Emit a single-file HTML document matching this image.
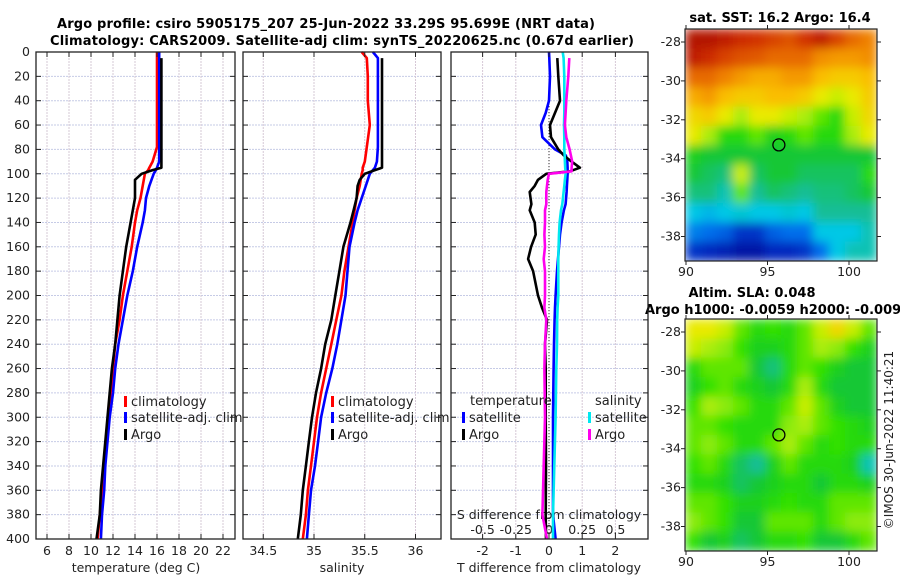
<!DOCTYPE html>
<html><head><meta charset="utf-8"><style>
html,body{margin:0;padding:0;background:#fff;}
svg{display:block;font-family:"DejaVu Sans","Liberation Sans",sans-serif;}
</style></head><body>
<svg id="fig" width="900" height="580" xmlns="http://www.w3.org/2000/svg">
<defs>
<filter id="blur" x="0" y="0" width="1" height="1"><feGaussianBlur stdDeviation="5" edgeMode="duplicate"/></filter>
<clipPath id="clip1"><rect x="685" y="29" width="192" height="232"/></clipPath>
<clipPath id="clip2"><rect x="685" y="319" width="192" height="232"/></clipPath>
</defs>
<text x="326" y="28" text-anchor="middle" font-size="13" font-weight="bold" textLength="538">Argo profile: csiro 5905175_207 25-Jun-2022 33.29S 95.699E (NRT data)</text>
<text x="342" y="45" text-anchor="middle" font-size="13" font-weight="bold" textLength="584">Climatology: CARS2009. Satellite-adj clim: synTS_20220625.nc (0.67d earlier)</text>
<text x="780" y="22" text-anchor="middle" font-size="13" font-weight="bold">sat. SST: 16.2 Argo: 16.4</text>
<text x="752" y="297" text-anchor="middle" font-size="13" font-weight="bold">Altim. SLA: 0.048</text>
<text x="645" y="314" font-size="13" font-weight="bold">Argo h1000: -0.0059 h2000: -0.009</text>
<text transform="translate(893,440) rotate(-90)" text-anchor="middle" font-size="12" fill="#222">©IMOS 30-Jun-2022 11:40:21</text>
<g id="g"></g>
</svg>
<script>
// ---- profile data ----
const tDepth = [0,5,20,40,60,78,90,95,97,100,105,110,120,130,140,160,180,200,220,240,260,280,300,320,340,360,380,400];
const tArgo  = [null,16.4,16.4,16.4,16.4,16.4,16.4,16.4,15.6,14.6,14.0,14.0,14.0,13.8,13.6,13.2,12.9,12.6,12.4,12.2,11.9,11.7,11.5,11.3,11.1,10.9,10.8,10.5];
const tClim  = [16.0,16.0,16.0,16.0,16.0,16.0,15.6,15.3,15.2,14.9,14.8,14.7,14.5,14.2,14.0,13.7,13.3,12.9,12.6,12.2,12.0,11.8,11.6,11.4,11.2,11.0,10.8,10.6];
const tSat   = [16.2,16.2,16.2,16.2,16.2,16.2,16.2,16.0,15.9,15.7,15.5,15.3,15.0,14.9,14.7,14.2,13.8,13.3,12.9,12.5,12.2,12.0,11.7,11.5,11.3,11.2,11.0,10.9];
const sArgo  = [null,35.67,35.67,35.67,35.67,35.67,35.67,35.67,35.6,35.5,35.45,35.43,35.42,35.39,35.36,35.29,35.25,35.21,35.17,35.11,35.07,35.02,34.98,34.95,34.92,34.89,34.87,34.84];
const sClim  = [35.47,35.52,35.53,35.53,35.55,35.52,35.5,35.48,35.48,35.47,35.46,35.45,35.42,35.4,35.38,35.34,35.3,35.27,35.22,35.17,35.12,35.07,35.03,35.0,34.97,34.94,34.92,34.89];
const sSat   = [35.58,35.63,35.63,35.63,35.63,35.63,35.62,35.6,35.58,35.55,35.53,35.51,35.47,35.43,35.4,35.35,35.33,35.31,35.27,35.23,35.18,35.12,35.07,35.04,35.01,34.97,34.95,34.93];
const dDepth = [0,5,20,40,50,60,70,80,85,90,95,98,100,105,110,115,125,130,140,150,160,170,180,200,210,220,240,260,300,340,380,400];
const dTSat  = [0.0,0.01,0.03,0.0,-0.1,-0.24,-0.2,0.18,0.51,0.55,0.56,0.56,0.56,0.55,0.54,0.53,0.5,0.45,0.38,0.33,0.3,0.27,0.24,0.2,0.18,0.17,0.15,0.14,0.12,0.12,0.12,0.2];
const dTArgo = [null,0.25,0.28,0.33,0.18,0.03,0.06,0.28,0.45,0.68,0.93,0.63,-0.08,-0.33,-0.43,-0.58,-0.53,-0.58,-0.43,-0.4,-0.54,-0.63,-0.48,-0.33,-0.21,-0.06,-0.12,-0.1,-0.1,-0.09,-0.1,-0.09];
const dSSat  = [0.103,0.11,0.115,0.115,0.115,0.113,0.115,0.115,0.118,0.12,0.122,0.124,0.125,0.12,0.115,0.11,0.1,0.09,0.08,0.075,0.072,0.07,0.07,0.07,0.065,0.062,0.06,0.055,0.05,0.04,0.03,0.03];
const dSArgo = [null,0.153,0.145,0.13,0.125,0.12,0.13,0.155,0.165,0.175,0.17,0.17,0.0,-0.01,-0.015,-0.02,-0.02,-0.03,-0.03,-0.035,-0.03,-0.04,-0.03,-0.03,-0.035,-0.02,-0.03,-0.035,-0.03,-0.04,-0.05,-0.015];
const depthTicks = [0,20,40,60,80,100,120,140,160,180,200,220,240,260,280,300,320,340,360,380,400];
const tTicks = [6,8,10,12,14,16,18,20,22];
const sTicks = [34.5,35,35.5,36];
const dTTicks = [-2,-1,0,1,2];
const dSTicks = [-0.5,-0.25,0,0.25,0.5];
const dSTickLabels = ["-0.5","-0.25","0","0.25","0.5"];
// ---- map data (colour index 0..1, rows north to south, cols west to east) ----
const sstGrid = [
[.97,.97,.95,.93,.92,.9,.88,.92,.95,.9,.85,.82],
[.95,.93,.9,.88,.87,.85,.85,.85,.8,.78,.78,.8],
[.85,.85,.82,.78,.75,.75,.78,.78,.72,.7,.7,.72],
[.75,.78,.72,.7,.7,.72,.72,.7,.65,.62,.65,.7],
[.68,.7,.65,.6,.65,.65,.62,.6,.55,.5,.62,.68],
[.65,.6,.5,.5,.55,.48,.5,.55,.5,.5,.6,.65],
[.48,.45,.45,.45,.45,.45,.45,.45,.45,.45,.45,.45],
[.45,.42,.4,.62,.42,.45,.45,.42,.42,.42,.42,.5],
[.4,.4,.35,.55,.38,.42,.4,.38,.4,.4,.42,.45],
[.3,.28,.3,.32,.3,.3,.32,.3,.38,.38,.38,.38],
[.22,.2,.18,.12,.12,.18,.2,.2,.3,.3,.3,.35],
[.12,.1,.08,.05,.05,.1,.1,.12,.2,.3,.35,.35]];
const slaGrid = [
[.65,.65,.62,.55,.5,.52,.5,.55,.62,.68,.62,.55],
[.62,.6,.58,.52,.48,.48,.5,.55,.6,.58,.52,.48],
[.5,.55,.55,.55,.45,.4,.5,.55,.52,.48,.45,.45],
[.48,.52,.55,.5,.48,.45,.5,.6,.5,.45,.45,.45],
[.52,.6,.58,.55,.5,.5,.55,.62,.55,.48,.45,.45],
[.55,.55,.52,.5,.5,.5,.58,.6,.55,.52,.5,.48],
[.55,.58,.55,.5,.5,.55,.6,.55,.5,.52,.5,.5],
[.52,.55,.5,.42,.38,.48,.55,.5,.5,.5,.48,.35],
[.5,.5,.48,.42,.45,.48,.5,.5,.45,.5,.5,.48],
[.55,.55,.52,.48,.48,.5,.52,.5,.5,.55,.55,.55],
[.58,.55,.52,.45,.45,.55,.55,.55,.5,.55,.58,.58],
[.52,.45,.48,.42,.45,.5,.5,.52,.45,.45,.5,.55]];
const latTicks = [-28,-30,-32,-34,-36,-38];
const lonTicks = [90,95,100];
const argoPos = [95.699,-33.29];

const NS="http://www.w3.org/2000/svg";
const g=document.getElementById('g');
function el(tag,attrs,parent){const e=document.createElementNS(NS,tag);for(const k in attrs)e.setAttribute(k,attrs[k]);(parent||g).appendChild(e);return e;}
const yD=d=>52+d*1.2175;
const xT=v=>157+(v-16)*11;
const xS=v=>314+(v-35)*101.5;
const xdT=v=>549+v*33.2;
const xdS=v=>549+v*132.8;
const panels=[[36,235],[243,441],[451,648]];
const TOP=52,BOT=539;

function grid(p,xs,sx){
  for(const d of depthTicks){let l=el('line',{x1:p[0],x2:p[1],y1:yD(d),y2:yD(d),stroke:'#c6cbe6','stroke-width':1,'stroke-dasharray':'2,1'});
    }
  for(const v of xs){let x=sx(v);let l=el('line',{x1:x,x2:x,y1:TOP,y2:BOT,stroke:'#d6c8d6','stroke-width':1,'stroke-dasharray':'2,1'});
    }
}
function frame(p,xs,sx,name){
  for(const d of depthTicks){el('line',{x1:p[0],x2:p[0]+5,y1:yD(d),y2:yD(d),stroke:'#222'});el('line',{x1:p[1]-5,x2:p[1],y1:yD(d),y2:yD(d),stroke:'#222'});}
  for(const v of xs){const x=sx(v);el('line',{x1:x,x2:x,y1:BOT-5,y2:BOT,stroke:'#222'});el('line',{x1:x,x2:x,y1:TOP,y2:TOP+5,stroke:'#222'});}
  const r=el('rect',{x:p[0],y:TOP,width:p[1]-p[0],height:BOT-TOP,fill:'none',stroke:'#222','stroke-width':1.3});
  
}
function line(depths,vals,sx,color,name,w){
  let pts=[];for(let i=0;i<depths.length;i++){if(vals[i]==null)continue;pts.push(sx(vals[i]).toFixed(1)+','+yD(depths[i]).toFixed(1));}
  const pl=el('polyline',{points:pts.join(' '),fill:'none',stroke:color,'stroke-width':w||2.6,'stroke-linejoin':'round'});
  
}
function txt(x,y,s,attrs,name){const t=el('text',Object.assign({x:x,y:y,'font-size':12,fill:'#222'},attrs||{}));t.textContent=s;
  return t;}

grid(panels[0],tTicks,xT);grid(panels[1],sTicks,xS);grid(panels[2],dTTicks,xdT);
for(const d of depthTicks){txt(30,yD(d)+4,String(d),{'text-anchor':'end','font-size':12.5},'depth-tick-label');}
for(const v of tTicks){txt(xT(v),555,String(v),{'text-anchor':'middle','font-size':12.5},'temperature-tick-label');}
txt(136,572,'temperature (deg C)',{'text-anchor':'middle','font-size':12.5},'temperature-axis-title');
for(const v of sTicks){txt(xS(v),555,String(v),{'text-anchor':'middle','font-size':12.5},'salinity-tick-label');}
txt(342,572,'salinity',{'text-anchor':'middle','font-size':12.5},'salinity-axis-title');
for(const v of dTTicks){txt(xdT(v),555,String(v),{'text-anchor':'middle','font-size':12.5},'t-diff-tick-label');}
txt(549,572,'T difference from climatology',{'text-anchor':'middle','font-size':12.5},'t-diff-axis-title');
dSTicks.forEach((v,i)=>txt(xdS(v),534,dSTickLabels[i],{'text-anchor':'middle','font-size':12.5},'s-diff-tick-label'));
txt(549,519,'S difference from climatology',{'text-anchor':'middle','font-size':12.5},'s-diff-axis-title');

let z=el('line',{x1:xdT(0),x2:xdT(0),y1:TOP,y2:BOT,stroke:'#333','stroke-width':1,'stroke-dasharray':'1,2'});


line(tDepth,tClim,xT,'#ff0000','temperature-climatology-line');
line(tDepth,tSat,xT,'#0000ff','temperature-satellite-line');
line(tDepth,tArgo,xT,'#000000','temperature-argo-line');
line(tDepth,sClim,xS,'#ff0000','salinity-climatology-line');
line(tDepth,sSat,xS,'#0000ff','salinity-satellite-line');
line(tDepth,sArgo,xS,'#000000','salinity-argo-line');
line(dDepth,dTSat,xdT,'#0000ff','t-diff-satellite-line');
line(dDepth,dTArgo,xdT,'#000000','t-diff-argo-line');
line(dDepth,dSSat,xdS,'#00e8f0','s-diff-satellite-line');
line(dDepth,dSArgo,xdS,'#ff00ee','s-diff-argo-line');

frame(panels[0],tTicks,xT,'temperature-panel');frame(panels[1],sTicks,xS,'salinity-panel');frame(panels[2],dTTicks,xdT,'difference-panel');

function legItem(x,y,color,label,name){
  const m=el('rect',{x:x,y:y-10,width:3,height:11,fill:color});
  txt(x+7,y,label,{'font-size':13},name);
}
[[124,'climatology-legend-1'],[331,'climatology-legend-2']].forEach(([x,n])=>{
  legItem(x,406,'#ff0000','climatology',n);
  legItem(x,422,'#0000ff','satellite-adj. clim',n.replace('climatology','satellite'));
  legItem(x,439,'#000000','Argo',n.replace('climatology','argo'));
});
txt(470,405,'temperature',{'font-size':13},'t-legend-title');
legItem(462,422,'#0000ff','satellite','t-legend-satellite');
legItem(462,439,'#000000','Argo','t-legend-argo');
txt(595,405,'salinity',{'font-size':13},'s-legend-title');
legItem(588,422,'#00e8f0','satellite','s-legend-satellite');
legItem(588,439,'#ff00ee','Argo','s-legend-argo');

// ---- maps ----
const cmapStops=[[0,[0,0,140]],[0.1,[0,40,190]],[0.2,[0,110,235]],[0.3,[0,200,230]],[0.38,[20,190,150]],[0.46,[20,200,40]],[0.52,[50,225,0]],[0.58,[140,235,10]],[0.64,[230,240,0]],[0.72,[250,190,0]],[0.82,[240,130,0]],[0.92,[210,50,0]],[1,[160,0,0]]];
function cmap(v){for(let i=1;i<cmapStops.length;i++){if(v<=cmapStops[i][0]){const a=cmapStops[i-1],b=cmapStops[i];const t=(v-a[0])/(b[0]-a[0]);
  const c=a[1].map((x,k)=>Math.round(x+(b[1][k]-x)*t));return 'rgb('+c.join(',')+')';}}return 'rgb(160,0,0)';}
function drawMap(top,bot,latRef,gridData,name,clip){
  const L=685,R=877;
  const lonX=lon=>686+(lon-90)*16.3;
  const latY=lat=>latRef+(-28-lat)*19.45;
  const rows=gridData.length,cols=gridData[0].length;
  const cw=(R-L)/cols,ch=(bot-top)/rows;
  const outer=el('g',{'clip-path':'url(#'+clip+')'});
  const mg=el('g',{filter:'url(#blur)'},outer);
  for(let r=0;r<rows;r++)for(let c=0;c<cols;c++){
    const cell=el('rect',{x:(L+c*cw).toFixed(2),y:(top+r*ch).toFixed(2),width:(cw+0.6).toFixed(2),height:(ch+0.6).toFixed(2),fill:cmap(gridData[r][c])},mg);
    
  }
  const fr=el('rect',{x:L,y:top,width:R-L,height:bot-top,fill:'none',stroke:'#222','stroke-width':1.2});
  
  for(const la of latTicks){const y=latY(la);el('line',{x1:L-4,x2:L,y1:y,y2:y,stroke:'#222'});el('line',{x1:R,x2:R+4,y1:y,y2:y,stroke:'#222'});
    txt(L-4,y+4,String(la),{'text-anchor':'end','font-size':12.5},'latitude-tick-label');}
  for(const lo of lonTicks){const x=lonX(lo);el('line',{x1:x,x2:x,y1:bot,y2:bot+4,stroke:'#222'});el('line',{x1:x,x2:x,y1:top-4,y2:top,stroke:'#222'});
    txt(x,bot+15,String(lo),{'text-anchor':'middle','font-size':12.5},'longitude-tick-label');}
  const c=el('circle',{cx:lonX(argoPos[0]),cy:latY(argoPos[1]),r:6,fill:'none',stroke:'#000','stroke-width':1.3});
  
}
drawMap(29,261,42,sstGrid,'sst-map','clip1');
drawMap(319,551,332,slaGrid,'sla-map','clip2');
</script>
</body></html>
